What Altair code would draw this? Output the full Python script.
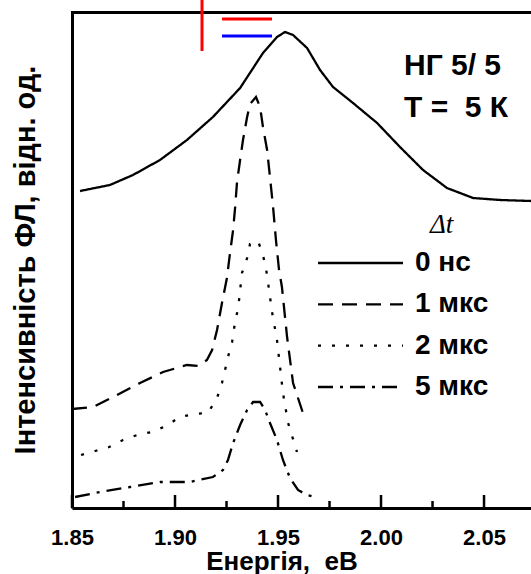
import altair as alt
import pandas as pd

# ---- data (energy in eV, intensity in arbitrary units) ----
e_0ns = [1.8539, 1.8684, 1.8796, 1.8927, 1.9058, 1.9184, 1.9316, 1.9427, 1.9495, 1.9534,
         1.9573, 1.9641, 1.9704, 1.9767, 1.9864, 1.9981, 2.0092, 2.0204, 2.0320, 2.0447,
         2.0578, 2.0728]
i_0ns = [3.17, 3.23, 3.33, 3.48, 3.68, 3.91, 4.20, 4.55, 4.71, 4.76,
         4.73, 4.60, 4.38, 4.21, 4.05, 3.85, 3.61, 3.38, 3.20, 3.10,
         3.08, 3.07]

e_1us = [1.8500, 1.8602, 1.8718, 1.8830, 1.8942, 1.9058, 1.9112, 1.9155, 1.9180, 1.9204,
         1.9228, 1.9252, 1.9267, 1.9282, 1.9292, 1.9301, 1.9316, 1.9330, 1.9350, 1.9364,
         1.9393, 1.9413, 1.9427, 1.9447, 1.9461, 1.9476, 1.9490, 1.9505, 1.9519, 1.9544,
         1.9573, 1.9621]
i_1us = [0.99, 1.01, 1.13, 1.25, 1.36, 1.43, 1.42, 1.48, 1.58, 1.78,
         2.05, 2.30, 2.55, 2.78, 3.01, 3.26, 3.48, 3.68, 3.91, 4.04,
         4.11, 4.01, 3.81, 3.58, 3.31, 3.01, 2.68, 2.38, 2.21, 1.71,
         1.25, 0.95]

e_2us = [1.8544, 1.8612, 1.8680, 1.8748, 1.8816, 1.8888, 1.8956, 1.9024, 1.9092, 1.9160,
         1.9204, 1.9228, 1.9243, 1.9257, 1.9277, 1.9287, 1.9301, 1.9311, 1.9325, 1.9350,
         1.9364, 1.9403, 1.9427, 1.9442, 1.9452, 1.9471, 1.9495, 1.9510, 1.9524, 1.9549,
         1.9592]
i_2us = [0.53, 0.57, 0.61, 0.68, 0.73, 0.76, 0.82, 0.91, 0.94, 0.95,
         1.10, 1.25, 1.38, 1.51, 1.66, 1.80, 1.95, 2.08, 2.35, 2.50,
         2.64, 2.67, 2.53, 2.39, 2.25, 1.96, 1.68, 1.41, 1.15, 0.85,
         0.56]

e_5us = [1.8515, 1.8636, 1.8782, 1.8927, 1.9073, 1.9184, 1.9233, 1.9257, 1.9282, 1.9316,
         1.9350, 1.9379, 1.9413, 1.9437, 1.9461, 1.9495, 1.9524, 1.9558, 1.9597, 1.9641,
         1.9680]
i_5us = [0.11, 0.16, 0.21, 0.26, 0.26, 0.31, 0.38, 0.48, 0.65, 0.83,
         0.98, 1.06, 1.06, 0.98, 0.85, 0.68, 0.48, 0.30, 0.18, 0.13,
         0.11]

series_labels = ["0 нс", "1 мкс", "2 мкс", "5 мкс"]
dash_styles = [[1, 0], [15, 9], [3, 11], [15, 7, 3, 7]]

major_ticks = [1.85, 1.90, 1.95, 2.00, 2.05]
minor_ticks = [1.875, 1.925, 1.975, 2.025]

x_domain = [1.85, 2.0728]
y_domain = [0, 4.97]

# ---- tables ----
frames = []
for lab, es, ys in zip(series_labels, [e_0ns, e_1us, e_2us, e_5us], [i_0ns, i_1us, i_2us, i_5us]):
    frames.append(pd.DataFrame({"energy": es, "intensity": ys, "series": lab, "order": range(len(es))}))
df = pd.concat(frames, ignore_index=True)

leg = pd.DataFrame({"series": series_labels, "row": list(range(len(series_labels)))})
majors = pd.DataFrame({"energy": major_ticks})
minors = pd.DataFrame({"energy": minor_ticks})

W, H = 459, 497
FONT = "Liberation Sans"

dash_scale = alt.Scale(domain=series_labels, range=dash_styles)
xs = alt.Scale(domain=x_domain, nice=False, zero=False)

lines = alt.Chart(df).mark_line(color="black", strokeWidth=2.3, clip=True).encode(
    x=alt.X("energy:Q", scale=xs,
            axis=alt.Axis(values=major_ticks, format=".2f", title=None, ticks=False, grid=False,
                          domainColor="black", domainWidth=3, labelFont=FONT, labelFontWeight="bold",
                          labelFontSize=22, labelColor="black", labelPadding=19, labelBaseline="top",
                          labelFlush=False)),
    y=alt.Y("intensity:Q", scale=alt.Scale(domain=y_domain, nice=False, zero=False),
            axis=alt.Axis(title=None, labels=False, ticks=False, grid=False,
                          domainColor="black", domainWidth=3)),
    strokeDash=alt.StrokeDash("series:N", scale=dash_scale, legend=None),
    detail="series:N",
    order="order:Q",
)

major_rule = alt.Chart(majors).mark_rule(color="black", strokeWidth=2.5).encode(
    x=alt.X("energy:Q", scale=xs), y=alt.value(H), y2=alt.value(H - 13))
minor_rule = alt.Chart(minors).mark_rule(color="black", strokeWidth=2.5).encode(
    x=alt.X("energy:Q", scale=xs), y=alt.value(H), y2=alt.value(H - 7))

# top frame line along the top edge of the plot
top_border = alt.Chart(majors.head(1)).mark_rule(color="black", strokeWidth=3).encode(
    x=alt.value(-1), x2=alt.value(W + 2), y=alt.value(1.5))

# diagnostic marks (temporary)
diag_v = alt.Chart(majors.head(1)).mark_rule(color="red", strokeWidth=3).encode(
    x=alt.value(130), y=alt.value(-11), y2=alt.value(40))
diag_h1 = alt.Chart(majors.head(1)).mark_rule(color="red", strokeWidth=3).encode(
    x=alt.value(150), x2=alt.value(200), y=alt.value(8))
diag_h2 = alt.Chart(majors.head(1)).mark_rule(color="blue", strokeWidth=3).encode(
    x=alt.value(150), x2=alt.value(200), y=alt.value(25))

row_scale = alt.Scale(domain=[0, 3], range=[252, 376])
leg_lines = alt.Chart(leg).mark_rule(color="black", strokeWidth=2.3).encode(
    x=alt.value(246), x2=alt.value(331),
    y=alt.Y("row:Q", scale=row_scale, axis=None),
    strokeDash=alt.StrokeDash("series:N", scale=dash_scale, legend=None),
)
leg_text = alt.Chart(leg).mark_text(align="left", baseline="middle", font=FONT, fontWeight="bold",
                                    fontSize=28, color="black").encode(
    x=alt.value(343),
    y=alt.Y("row:Q", scale=row_scale, axis=None),
    text="series:N",
)

notes = pd.DataFrame({"t": ["НГ 5/ 5", "Т =\u00a0 5 К"], "k": [0, 1]})
note_text = alt.Chart(notes).mark_text(align="left", baseline="alphabetic", font=FONT, fontWeight="bold",
                                       fontSize=30, color="black").encode(
    x=alt.value(332),
    y=alt.Y("k:Q", scale=alt.Scale(domain=[0, 1], range=[64, 106]), axis=None),
    text="t:N",
)

dt_text = alt.Chart(pd.DataFrame({"t": ["Δt"]})).mark_text(
    align="left", baseline="alphabetic", font="Liberation Serif", fontStyle="italic",
    fontSize=27, color="black").encode(x=alt.value(358), y=alt.value(222), text="t:N")

ytitle = alt.Chart(pd.DataFrame({"t": ["Інтенсивність ФЛ, відн. од."]})).mark_text(
    align="center", baseline="alphabetic", angle=270, font=FONT, fontWeight="bold",
    fontSize=29, color="black").encode(x=alt.value(-37), y=alt.value(249), text="t:N")

xtitle = alt.Chart(pd.DataFrame({"t": ["Енергія,\u00a0 еВ"]})).mark_text(
    align="center", baseline="alphabetic", font=FONT, fontWeight="bold",
    fontSize=26, color="black").encode(x=alt.value(210), y=alt.value(559), text="t:N")

chart = alt.layer(
    lines, major_rule, minor_rule, top_border, diag_v, diag_h1, diag_h2,
    leg_lines, leg_text, note_text, dt_text, ytitle, xtitle
).resolve_scale(y="independent").properties(
    width=W, height=H,
    autosize=alt.AutoSizeParams(type="none"),
    padding={"left": 72, "top": 11, "right": 0, "bottom": 66},
    background="white",
).configure_view(stroke=None)

chart.save("out.html", embed_options={"renderer": "svg", "actions": False})
